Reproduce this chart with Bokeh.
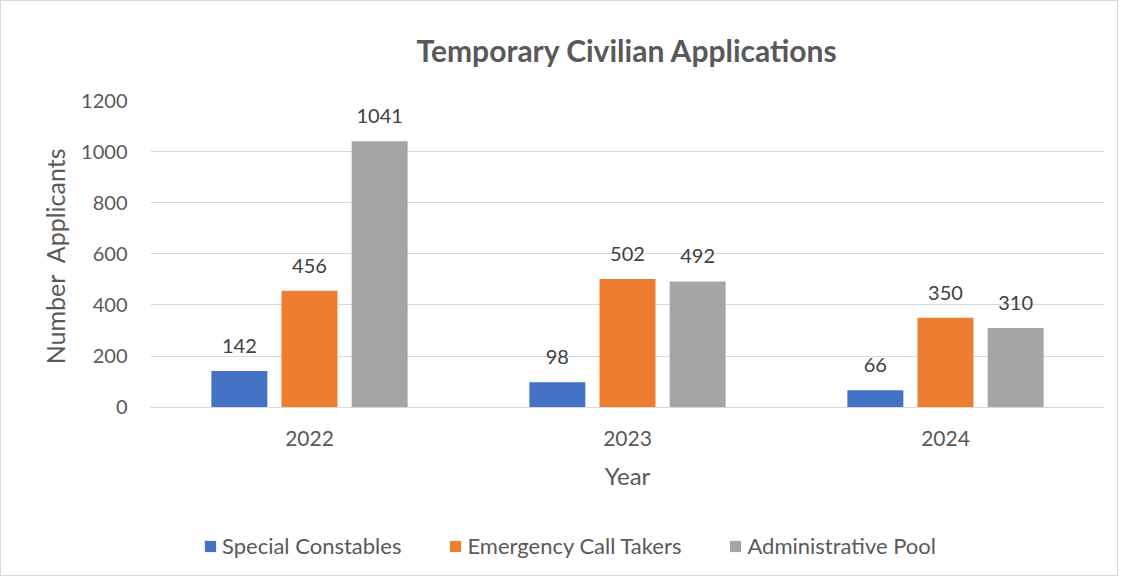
from bokeh.plotting import figure
from bokeh.models import (ColumnDataSource, FactorRange, Range1d, LabelSet, Legend, LegendItem,
                          Title, CategoricalAxis, FixedTicker)
from bokeh.transform import dodge
from bokeh.core.properties import value
from bokeh.embed import file_html
from bokeh.resources import INLINE

years = ["2022", "2023", "2024"]
special_constables = [142, 98, 66]
emergency_call_takers = [456, 502, 350]
administrative_pool = [1041, 492, 310]
series_names = ["Special Constables", "Emergency Call Takers", "Administrative Pool"]
colors = ["#4472C4", "#ED7D31", "#A5A5A5"]
y_ticks = [0, 200, 400, 600, 800, 1000, 1200]

FONT = "Lato"
TXT = "#595959"

src = ColumnDataSource(dict(
    year=years,
    sc=special_constables,
    ec=emergency_call_takers,
    ap=administrative_pool,
    sc_l=[str(v) for v in special_constables],
    ec_l=[str(v) for v in emergency_call_takers],
    ap_l=[str(v) for v in administrative_pool],
))

# frame: 1200 at top; extra room below 0 holds the category axis and the legend
p = figure(width=1118, height=576, output_backend="svg", toolbar_location=None,
           x_range=FactorRange(factors=years, range_padding=0),
           y_range=Range1d(-627, 1200),
           x_axis_location=None,
           min_border_left=149, min_border_right=15, min_border_top=96, min_border_bottom=10,
           title=None)
p.styles = {"border": "1px solid #d9d9d9", "box-sizing": "border-box"}

t = Title(text="Temporary Civilian Applications", align="center", vertical_align="top",
          text_font=FONT, text_font_size="30px", text_font_style="bold", text_color=TXT,
          standoff=61)
p.add_layout(t, "above")

p.outline_line_color = None
p.background_fill_color = "white"
p.border_fill_color = "white"

offsets = [-0.2206, 0.0, 0.2206]
fields = ["sc", "ec", "ap"]
renderers = []
for off, f, c in zip(offsets, fields, colors):
    r = p.vbar(x=dodge("year", off, range=p.x_range), top=f, bottom=0, width=0.176, source=src,
               fill_color=c, line_color=None)
    renderers.append(r)
    lbl = LabelSet(x=dodge("year", off, range=p.x_range), y=f, text=f + "_l", source=src,
                   text_align="center", text_baseline="middle", y_offset=25,
                   text_font=value(FONT), text_font_size=value("20px"), text_color="#404040")
    p.add_layout(lbl)

p.xgrid.grid_line_color = None
p.ygrid.grid_line_color = "#D9D9D9"
p.ygrid.grid_line_width = 1
p.ygrid.ticker = FixedTicker(ticks=y_ticks)
p.yaxis.ticker = FixedTicker(ticks=y_ticks)
p.yaxis.axis_line_color = None
p.yaxis.major_tick_line_color = None
p.yaxis.major_tick_out = 0
p.yaxis.minor_tick_line_color = None
p.yaxis.major_label_text_font = FONT
p.yaxis.major_label_text_font_size = "20px"
p.yaxis.major_label_text_color = TXT
p.yaxis.major_label_standoff = 23

ylab = Title(text="Number\u00a0\u00a0Applicants", align="right", offset=48, text_font=FONT,
             text_font_size="25px", text_font_style="normal", text_color=TXT, standoff=17)
p.add_layout(ylab, "left")

xaxis = CategoricalAxis(fixed_location=0)
xaxis.axis_line_color = "#D9D9D9"
xaxis.major_tick_line_color = None
xaxis.major_tick_out = 0
xaxis.minor_tick_line_color = None
xaxis.major_label_text_font = FONT
xaxis.major_label_text_font_size = "21px"
xaxis.major_label_text_color = TXT
xaxis.major_label_standoff = 24
xaxis.axis_label = "Year"
xaxis.axis_label_text_font = FONT
xaxis.axis_label_text_font_size = "24px"
xaxis.axis_label_text_font_style = "normal"
xaxis.axis_label_text_color = TXT
xaxis.axis_label_standoff = 11
p.add_layout(xaxis, "below")

legend = Legend(items=[LegendItem(label=n, renderers=[r]) for n, r in zip(series_names, renderers)],
                orientation="horizontal", location=(53, 8),
                glyph_width=14, glyph_height=14, label_standoff=5, spacing=47,
                label_text_font=FONT, label_text_font_size="22px", label_text_color=TXT,
                border_line_color=None, background_fill_alpha=0, padding=0, margin=0)
p.add_layout(legend, "center")

open("out.html", "w").write(file_html(p, INLINE))
